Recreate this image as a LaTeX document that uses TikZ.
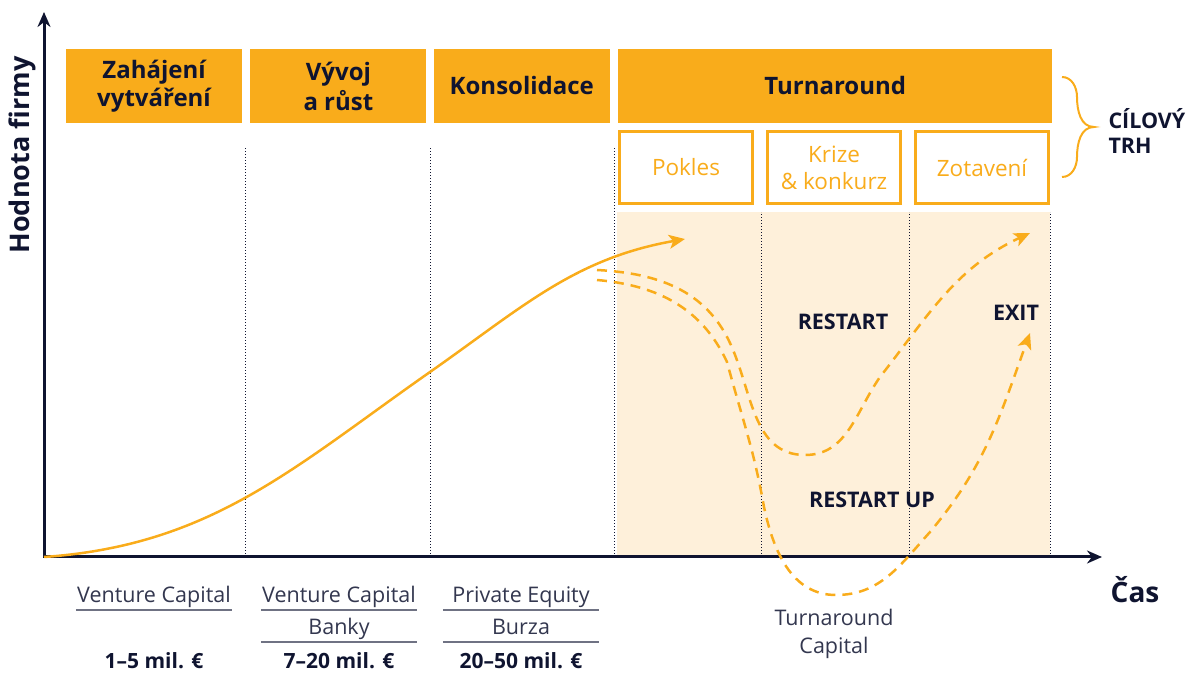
\documentclass[tikz,border=0pt]{standalone}
\usepackage{fontspec}
\setmainfont{Open Sans}
\usetikzlibrary{arrows.meta}
\usetikzlibrary{positioning}
\definecolor{tgorange}{HTML}{F9AC1B}
\definecolor{tglight}{HTML}{FEF0DA}
\definecolor{tgnavy}{HTML}{0F1430}
\newcommand{\lwc}{2.5pt}
\newcommand{\TB}{\fontsize{24}{28}\selectfont\bfseries}
\newcommand{\TL}{\fontsize{22.5}{27}\selectfont}
\newcommand{\TF}{\fontsize{21.5}{28}\selectfont}

\begin{document}
\begin{tikzpicture}[x=1pt,y=1pt,
    phase/.style={fill=tgorange,text=tgnavy,font=\TB,align=center,minimum height=74pt,minimum width=176pt,inner sep=0pt},
    subphase/.style={draw=tgorange,fill=white,line width=\lwc,text=tgorange,font=\TL,align=center,minimum height=72pt,minimum width=133pt,inner sep=0pt},
    fund/.style={text=tgnavy!85,font=\TF,minimum width=156pt,inner xsep=0pt,inner ysep=2.5pt,text height=16pt,text depth=5pt,anchor=south},
    amount/.style={text=tgnavy,font=\fontsize{21}{28}\selectfont\bfseries,anchor=base},
    fundline/.style={tgnavy!60,line width=1.5pt},
    divider/.style={tgnavy,line width=1pt,dotted},
    axisline/.style={tgnavy,line width=3pt,{Stealth[length=15pt,width=13pt]}-{Stealth[length=15pt,width=13pt]}},
    growth/.style={tgorange,line width=\lwc,-{Stealth[length=16pt,width=14pt,inset=4pt]}},
    scenario/.style={growth,dash pattern=on 10pt off 7pt},
    tag/.style={text=tgnavy,font=\fontsize{21.5}{25}\selectfont\bfseries}]
    \useasboundingbox (0,0) rectangle (1188,672);

    \fill[tglight] (617,115) rectangle (1050,460);
    \foreach \xs in {245,430,614}
        \draw[divider] (\xs,115) -- (\xs,525);
    \foreach \xs in {761,909,1050}
        \draw[divider] (\xs,115) -- (\xs,460);

    \coordinate (origin) at (44,115);
    \coordinate (ytip) at (44,660);
    \coordinate (xtip) at (1102,115);
    \draw[axisline] (ytip) -- (origin) -- (xtip);
    \node[tag,font=\fontsize{27}{32}\selectfont\bfseries,rotate=90] (hodnota) at (22,517) {Hodnota firmy};
    \node[tag,font=\fontsize{28}{32}\selectfont\bfseries] (cas) at (1135,82) {Čas};

    % phases
    \node[phase] (zahajeni) at (154,586) {\strut Zahájení\\vytváření};
    \node[phase,right=8pt of zahajeni] (vyvoj) {\strut Vývoj\\a růst};
    \node[phase,right=7pt of vyvoj] (konsolidace) {Konsolidace};
    \node[phase,right=8pt of konsolidace,minimum width=434pt] (turnaround) {Turnaround};
    \node[subphase] (pokles) at (686,504.5) {Pokles};
    \node[subphase] (krize) at (834,504.5) {Krize\\\& konkurz};
    \node[subphase] (zotaveni) at (982,504.5) {Zotavení};

    \draw[tgorange,line width=2pt] (1062,595) to[out=0,in=90] (1077,575) to[out=-90,in=180] (1094,545)
        to[out=180,in=90] (1077,515) to[out=-90,in=0] (1062,495);
    \node[tag,anchor=west,align=left] (cil) at (1105,541) {CÍLOVÝ\\TRH};

    % curves
    \coordinate (growthmid) at (430,300);
    \coordinate (growthend) at (685,433);
    \draw[growth] (origin) to[out=4,in=215] (growthmid) to[out=35,in=190] (growthend);

    \coordinate (restart) at (1030,439);
    \coordinate (exit) at (1030,339);
    \draw[scenario] (597,402) to[out=-3,in=115] (730,329) to[out=-65,in=180] (805,217)
        to[out=0,in=235] (880,295) to[out=52,in=205] (restart);
    \draw[scenario] (597,392) to[out=-5,in=115] (727,310) to[out=-75,in=100] (764,165)
        to[out=-78,in=180] (836,77) to[out=0,in=228] (930,140) to[out=50,in=250] (exit);

    \node[tag] (restartlabel) at (843,350) {RESTART};
    \node[tag] (restartup) at (872,172) {RESTART UP};
    \node[tag] (exitlabel) at (1016,359) {EXIT};

    % funding
    \node[fund] (vc1) at (154,62) {Venture Capital};
    \node[fund] (vc2) at (339,62) {Venture Capital};
    \node[fund] (banky) at (339,30) {Banky};
    \node[fund] (pe) at (521,62) {Private Equity};
    \node[fund] (burza) at (521,30) {Burza};
    \foreach \n in {vc1,vc2,banky,pe,burza}
        \draw[fundline] (\n.south west) -- (\n.south east);
    \node[amount] (a1) at (154,4) {1–5 mil. €};
    \node[amount] (a2) at (339,4) {7–20 mil. €};
    \node[amount] (a3) at (521,4) {20–50 mil. €};
    \node[text=tgnavy!85,font=\TF,align=center] (tc) at (834,38) {Turnaround\\Capital};
\end{tikzpicture}
\end{document}
